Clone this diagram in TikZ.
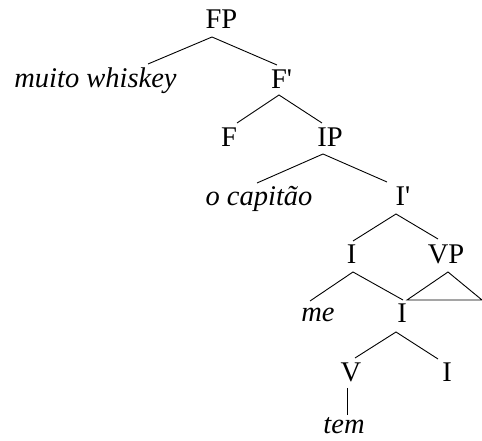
\documentclass[tikz,border=0pt]{standalone}
\usepackage{fontspec}
\setmainfont{Liberation Serif}[Ligatures=TeXOff]
\begin{document}
\begin{tikzpicture}[x=1pt,y=1pt,
  lab/.style={inner sep=0pt,anchor=base,font=\fontsize{28.5}{30}\selectfont},
  ilab/.style={lab,font=\fontsize{28.5}{30}\selectfont\itshape},
  edge/.style={line width=0.9pt}]
\useasboundingbox (0,0) rectangle (482,441);
% nodes (x = centre, y = 441 - baseline)
\node[lab]  (FP)  at (221.5,412) {FP};
\node[ilab] (mw)  at (95.5,353)  {muito whiskey};
\node[lab]  (Fb)  at (281.5,352) {F'};
\node[lab]  (F)   at (229,294)   {F};
\node[lab]  (IP)  at (330,294)   {IP};
\node[ilab] (oc)  at (259,235)   {o capitão};
\node[lab]  (Ib)  at (403,235)   {I'};
\node[lab]  (I1)  at (351.5,177) {I};
\node[lab]  (VP)  at (446,177)   {VP};
\node[ilab] (me)  at (318,119)   {me};
\node[lab]  (I2)  at (402,118)   {I};
\node[lab]  (V)   at (351,59)    {V};
\node[lab]  (I3)  at (447,59)    {I};
\node[ilab] (tem) at (344,7)     {tem};
% connectors
\draw[edge] ([xshift=52.5pt,yshift=24pt]mw.base) -- ([xshift=-9.5pt,yshift=-8pt]FP.base) -- ([xshift=-4.5pt,yshift=24pt]Fb.base);
\draw[edge] ([xshift=8pt,yshift=24pt]F.base) -- ([xshift=-2.5pt,yshift=-6pt]Fb.base) -- ([xshift=-8pt,yshift=24pt]IP.base);
\draw[edge] ([xshift=-2pt,yshift=23pt]oc.base) -- ([xshift=-7pt,yshift=-7pt]IP.base) -- ([xshift=-16pt,yshift=24pt]Ib.base);
\draw[edge] ([xshift=1.5pt,yshift=23pt]I1.base) -- ([xshift=-7pt,yshift=-8pt]Ib.base) -- ([xshift=-8pt,yshift=25pt]VP.base);
\draw[edge] ([xshift=-8pt,yshift=21pt]me.base) -- ([xshift=1.5pt,yshift=-8pt]I1.base) -- ([xshift=1pt,yshift=23pt]I2.base);
\draw[edge] ([xshift=-39pt,yshift=-36pt]VP.base) -- ([xshift=2pt,yshift=-8pt]VP.base) -- ([xshift=36pt,yshift=-36pt]VP.base) -- cycle;
\draw[edge] ([xshift=4pt,yshift=24pt]V.base) -- ([xshift=-6pt,yshift=-9pt]I2.base) -- ([xshift=-9pt,yshift=23pt]I3.base);
\draw[edge] ([xshift=-4pt,yshift=-6pt]V.base) -- ([xshift=3pt,yshift=19pt]tem.base);
\end{tikzpicture}
\end{document}
